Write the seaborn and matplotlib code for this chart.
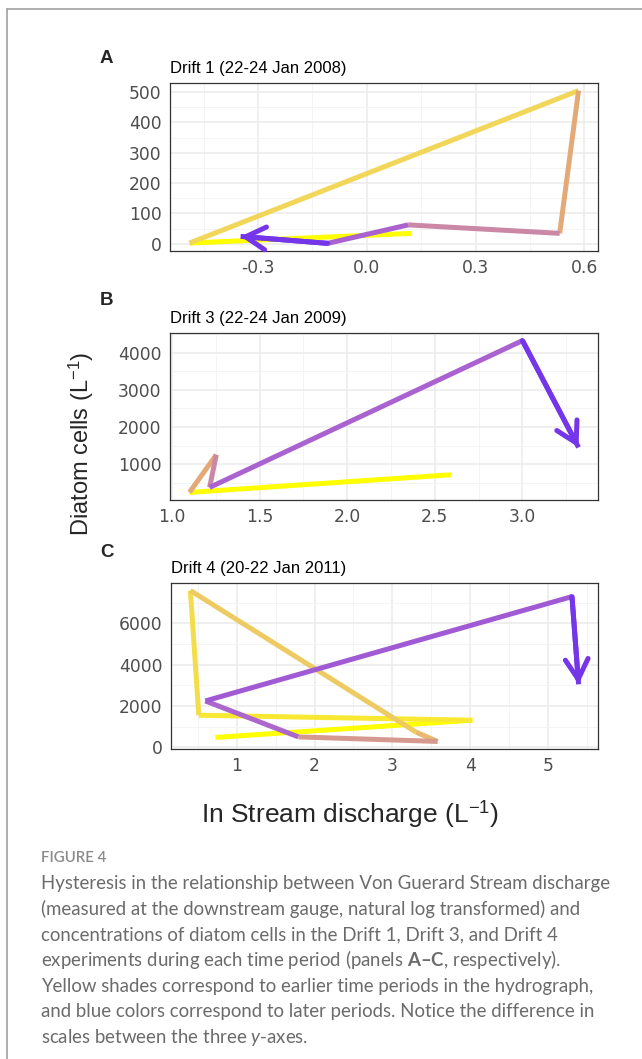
import matplotlib
matplotlib.use("Agg")
import numpy as np
import pandas as pd
import matplotlib.pyplot as plt
import seaborn as sns
from matplotlib.colors import LinearSegmentedColormap
from matplotlib.ticker import MultipleLocator, FormatStrFormatter
from matplotlib.lines import Line2D

# Drift 1 (22-24 Jan 2008), panel A
d1_discharge = [0.125, -0.489, 0.584, 0.532, 0.114, -0.108, -0.348]
d1_cells = [34, 2, 505, 34, 62, 1, 24]
d1_hours = [0, 6, 12, 18, 24, 30, 36]

# Drift 3 (22-24 Jan 2009), panel B
d3_discharge = [2.592, 1.100, 1.253, 1.215, 3.000, 3.320]
d3_cells = [711, 235, 1252, 370, 4333, 1450]
d3_hours = [0, 12, 18, 24, 30, 36]

# Drift 4 (20-22 Jan 2011), panel C
d4_discharge = [0.722, 4.03, 0.510, 0.402, 3.305, 3.582, 1.790, 0.594, 5.311, 5.396]
d4_cells = [483, 1318, 1559, 7593, 739, 290, 512, 2250, 7300, 3056]
d4_hours = [0, 4, 6, 9, 12, 18, 28, 30, 36, 40]

titles = ["Drift 1 (22-24 Jan 2008)", "Drift 3 (22-24 Jan 2009)", "Drift 4 (20-22 Jan 2011)"]
letters = ["A", "B", "C"]

caption_head = "FIGURE 4"
caption_lines = [
    "Hysteresis in the relationship between Von Guerard Stream discharge",
    "(measured at the downstream gauge, natural log transformed) and",
    "concentrations of diatom cells in the Drift 1, Drift 3, and Drift 4",
    r"experiments during each time period (panels $\mathbf{A–C}$, respectively).",
    "Yellow shades correspond to earlier time periods in the hydrograph,",
    "and blue colors correspond to later periods. Notice the difference in",
    r"scales between the three $\mathit{y}$-axes.",
]

# yellow (early) -> blue-violet (late)
time_cmap = LinearSegmentedColormap.from_list(
    "time", [(0.0, "#FFFF00"), (0.2, "#F2D65A"), (0.4, "#E3AA78"),
             (0.6, "#CA88A6"), (0.8, "#A962D0"), (1.0, "#7436E8")])

sns.set_style("white")
plt.rcParams["font.family"] = ["DejaVu Sans"]
plt.rcParams["axes.unicode_minus"] = False
plt.rcParams["mathtext.fontset"] = "custom"
plt.rcParams["mathtext.rm"] = "Liberation Sans"
plt.rcParams["mathtext.bf"] = "Lato:bold"
plt.rcParams["mathtext.it"] = "Lato:italic"

W, H = 642, 1059
fig = plt.figure(figsize=(W / 100, H / 100), dpi=100)

# (left, top, right, bottom) in pixels
boxes = [(170, 83, 598, 251), (170, 333, 598, 500), (171, 583, 598, 749)]
letter_base = [63, 305, 557]
panels = [
    (d1_discharge, d1_cells, d1_hours, 0.3, 100, 0.15, 50, "%.1f", "%d"),
    (d3_discharge, d3_cells, d3_hours, 0.5, 1000, 0.25, 500, "%.1f", "%d"),
    (d4_discharge, d4_cells, d4_hours, 1, 2000, 0.5, 1000, "%d", "%d"),
]


def segments_frame(xs, ys):
    rows = []
    for i in range(len(xs) - 1):
        rows.append({"discharge": xs[i], "cells": ys[i], "seg": f"s{i}"})
        rows.append({"discharge": xs[i + 1], "cells": ys[i + 1], "seg": f"s{i}"})
    return pd.DataFrame(rows)


for k, (xs, ys, hrs, xmaj, ymaj, xmin, ymin, xfmt, yfmt) in enumerate(panels):
    l, t, r, b = boxes[k]
    ax = fig.add_axes([l / W, 1 - b / H, (r - l) / W, (b - t) / H])
    df = segments_frame(xs, ys)
    starts = np.array(hrs[:-1], dtype=float)
    frac = (starts - starts[0]) / (starts[-1] - starts[0])
    pal = {f"s{i}": time_cmap(f) for i, f in enumerate(frac)}
    sns.lineplot(data=df, x="discharge", y="cells", hue="seg", palette=pal,
                 sort=False, estimator=None, legend=False, lw=3.6, ax=ax)
    for ln in ax.lines:
        ln.set_solid_capstyle("butt")
    ax.annotate("", xy=(xs[-1], ys[-1]), xytext=(xs[-2], ys[-2]),
                arrowprops=dict(arrowstyle="->,head_length=0.72,head_width=0.41",
                                color=pal[f"s{len(xs) - 2}"], lw=3.6,
                                shrinkA=0, shrinkB=0, mutation_scale=20))
    ax.margins(0.05)
    ax.xaxis.set_major_locator(MultipleLocator(xmaj))
    ax.yaxis.set_major_locator(MultipleLocator(ymaj))
    ax.xaxis.set_minor_locator(MultipleLocator(xmin))
    ax.yaxis.set_minor_locator(MultipleLocator(ymin))
    ax.xaxis.set_major_formatter(FormatStrFormatter(xfmt))
    ax.yaxis.set_major_formatter(FormatStrFormatter(yfmt))
    ax.grid(which="major", color="#EBEBEB", lw=1.1)
    ax.grid(which="minor", color="#F4F4F4", lw=0.7)
    ax.set_axisbelow(True)
    for sp in ax.spines.values():
        sp.set_color("#333333")
        sp.set_linewidth(0.9)
    ax.tick_params(which="major", length=4, width=0.9, color="#333333",
                   labelcolor="#4D4D4D", labelsize=12.3, pad=2)
    ax.tick_params(which="minor", length=0)
    ax.set_xlabel("")
    ax.set_ylabel("")
    ax.set_title(titles[k], loc="left", fontsize=12, color="black", pad=7,
                 family="Liberation Sans")
    fig.text(100 / W, 1 - letter_base[k] / H, letters[k], fontsize=13.5,
             weight="bold", va="baseline", ha="left", family="Liberation Sans")

fig.text(81 / W, 1 - 444 / H, r"Diatom cells (L$^{-1}$)", rotation=90,
         ha="center", va="center", fontsize=17, family="Liberation Sans")
fig.text(350 / W, 1 - 814 / H, r"In Stream discharge (L$^{-1}$)",
         ha="center", va="center", fontsize=19, family="Liberation Sans")

# caption
fig.text(41 / W, 1 - 862 / H, caption_head, fontsize=10.8, family="Lato",
         weight="semibold", color="#8A8A8A", va="baseline")
for i, line in enumerate(caption_lines):
    fig.text(41 / W, 1 - (889 + 25.7 * i) / H, line, fontsize=13.4,
             family="Lato", color="#6B6B6B", va="baseline")

# page frame
fig.add_artist(Line2D([7 / W, 7 / W], [0, 1 - 9 / H], color="#A0A0A0", lw=1.2,
                      transform=fig.transFigure))
fig.add_artist(Line2D([7 / W, 1], [1 - 9 / H, 1 - 9 / H], color="#A0A0A0", lw=1.2,
                      transform=fig.transFigure))

fig.savefig("out.png", dpi=100, facecolor="white")
